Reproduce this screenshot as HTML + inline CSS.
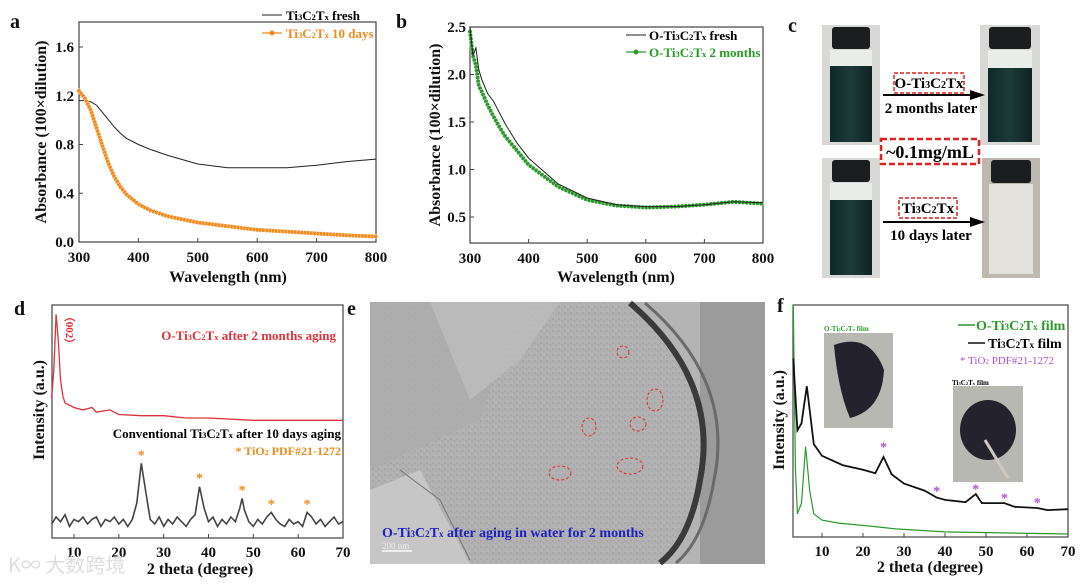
<!DOCTYPE html>
<html><head><meta charset="utf-8"><style>
html,body{margin:0;padding:0;background:#fff;overflow:hidden;width:1080px;height:586px}
svg{display:block;font-family:"Liberation Serif",serif}
.tk{font-weight:bold;font-size:15px;fill:#111}
.ax{font-weight:bold;font-size:16px;fill:#111}
</style></head><body>
<svg id="s" width="1080" height="586" viewBox="0 0 1080 586" xmlns="http://www.w3.org/2000/svg">
<defs>
<pattern id="noise" width="6" height="6" patternUnits="userSpaceOnUse"><rect width="6" height="6" fill="#b1b1b1"/><circle cx="1" cy="1" r="0.8" fill="#9a9a9a"/><circle cx="4" cy="3" r="0.7" fill="#a2a2a2"/><circle cx="2" cy="5" r="0.6" fill="#c0c0c0"/></pattern>
<linearGradient id="vial" x1="0" x2="1"><stop offset="0" stop-color="#0f2a28"/><stop offset="0.5" stop-color="#1c3b38"/><stop offset="1" stop-color="#0d2422"/></linearGradient>
</defs>
<g font-weight="bold" font-size="20" fill="#111">
<text x="10" y="28">a</text>
<text x="396" y="28">b</text>
<text x="788" y="32">c</text>
<text x="14" y="315">d</text>
<text x="347" y="315">e</text>
<text x="777" y="312">f</text>
</g>

<g>
<g><rect x="822" y="25" width="58" height="120" fill="#d8d8d6"/><rect x="832" y="27" width="38" height="22" rx="3" fill="#1b1d1f"/><rect x="830" y="50" width="42" height="16" fill="#e9ece9"/><rect x="830" y="66" width="42" height="76" fill="url(#vial)"/></g>
<g><rect x="980" y="25" width="60" height="120" fill="#d8d8d6"/><rect x="989" y="27" width="42" height="22" rx="3" fill="#1b1d1f"/><rect x="988" y="50" width="44" height="18" fill="#e9ece9"/><rect x="988" y="68" width="44" height="74" fill="url(#vial)"/></g>
<g><rect x="822" y="158" width="58" height="120" fill="#d8d8d6"/><rect x="832" y="160" width="38" height="22" rx="3" fill="#1b1d1f"/><rect x="830" y="183" width="42" height="17" fill="#e9ece9"/><rect x="830" y="200" width="42" height="75" fill="url(#vial)"/></g>
<g><rect x="982" y="158" width="58" height="120" fill="#bdb8b0"/><rect x="991" y="160" width="40" height="23" rx="3" fill="#1b1d1f"/><rect x="989" y="184" width="44" height="90" fill="#e4e2dc"/></g>
<g><line x1="883" y1="95" x2="975" y2="95" stroke="#000" stroke-width="2"/><polygon points="985,95 970,90 970,100" fill="#000"/></g>
<g><line x1="883" y1="222" x2="975" y2="222" stroke="#000" stroke-width="2"/><polygon points="985,222 970,217 970,227" fill="#000"/></g>
<rect x="894" y="73" width="70" height="20" fill="none" stroke="#e02020" stroke-width="1.5" stroke-dasharray="4,2"/>
<text x="929" y="88" text-anchor="middle" font-size="15" font-weight="bold">O-Ti<tspan font-size="10">3</tspan>C<tspan font-size="10">2</tspan>Tx</text>
<text x="931" y="113" text-anchor="middle" font-size="15" font-weight="bold">2 months later</text>
<rect x="881" y="139" width="98" height="25" fill="none" stroke="#e02020" stroke-width="2.5" stroke-dasharray="6,3"/>
<text x="930" y="158" text-anchor="middle" font-size="18" font-weight="bold">~0.1mg/mL</text>
<rect x="899" y="198" width="58" height="20" fill="none" stroke="#e02020" stroke-width="1.5" stroke-dasharray="4,2"/>
<text x="928" y="213" text-anchor="middle" font-size="15" font-weight="bold">Ti<tspan font-size="10">3</tspan>C<tspan font-size="10">2</tspan>Tx</text>
<text x="931" y="240" text-anchor="middle" font-size="15" font-weight="bold">10 days later</text>
</g>

<g>
<rect x="370" y="302" width="395" height="262" fill="#b4b4b4"/>
<rect x="700" y="302" width="65" height="262" fill="#9b9b9b"/>
<path d="M370,302 L630,302 Q720,380 700,480 Q690,540 660,564 L370,564 Z" fill="url(#noise)"/>
<polygon points="370,302 520,302 480,420 370,470" fill="#adadad" opacity="0.8"/>
<polygon points="430,302 560,302 520,360 470,400" fill="#bdbdbd" opacity="0.8"/>
<path d="M630,303 Q720,380 700,480 Q690,540 660,563" fill="none" stroke="#3a3a3a" stroke-width="6"/>
<path d="M645,303 Q735,380 714,480 Q704,540 676,563" fill="none" stroke="#6a6a6a" stroke-width="3"/>
<polygon points="370,490 420,470 470,564 370,564" fill="#c6c6c6"/>
<path d="M400,470 L440,500 L470,560" fill="none" stroke="#777" stroke-width="1"/>
<g fill="none" stroke="#e03030" stroke-width="1" stroke-dasharray="3,2">
<ellipse cx="623" cy="352" rx="6" ry="6"/><ellipse cx="655" cy="400" rx="8" ry="11"/><ellipse cx="638" cy="424" rx="8" ry="7"/><ellipse cx="589" cy="427" rx="7" ry="9"/><ellipse cx="630" cy="466" rx="13" ry="8"/><ellipse cx="560" cy="473" rx="11" ry="7"/>
</g>
<text x="382" y="537" font-size="14" font-weight="bold" fill="#2020c0">O-Ti<tspan font-size="9">3</tspan>C<tspan font-size="9">2</tspan>T<tspan font-size="9">x</tspan> after aging in water for 2 months</text>
<line x1="382" y1="551" x2="412" y2="551" stroke="#eee" stroke-width="2"/>
<text x="382" y="549" font-size="9" fill="#eee">200 nm</text>
</g>

<g id="charts"></g>
<text x="8" y="572" font-size="20" fill="#ddd" font-family="'Noto Sans CJK SC',sans-serif">K∞ 大数跨境</text>
</svg>
<script>
const aFreshX=[300,310,320,330,340,350,360,370,380,400,420,450,500,550,600,650,700,750,800];
const aFreshY=[1.16,1.16,1.15,1.12,1.06,1.0,0.94,0.89,0.85,0.8,0.76,0.71,0.64,0.61,0.61,0.61,0.63,0.66,0.68];
const aAgedX=[300,310,320,330,340,350,360,370,380,400,420,450,500,550,600,650,700,750,800];
const aAgedY=[1.24,1.18,1.08,0.93,0.78,0.64,0.53,0.45,0.39,0.31,0.26,0.21,0.16,0.13,0.1,0.085,0.07,0.055,0.045];
const aYTicks=[0.0,0.4,0.8,1.2,1.6];
const wlTicks=[300,400,500,600,700,800];
const bFreshX=[300,305,310,315,320,330,340,350,360,380,400,450,500,550,600,650,700,750,800];
const bFreshY=[2.5,2.2,2.28,2.05,1.95,1.8,1.72,1.6,1.48,1.28,1.12,0.85,0.7,0.63,0.61,0.61,0.63,0.66,0.65];
const bAgedX=[300,305,310,315,320,330,340,350,360,380,400,450,500,550,600,650,700,750,800];
const bAgedY=[2.45,2.2,2.1,1.88,1.82,1.68,1.56,1.45,1.35,1.2,1.05,0.82,0.68,0.62,0.6,0.61,0.63,0.66,0.64];
const bYTicks=[0.5,1.0,1.5,2.0,2.5];
const dRedX=[5,5.5,6,6.5,7,7.5,8,10,12,14,15,18,20,25,30,35,40,50,70];
const dRedY=[60,72,96,85,68,61,58,56,55,56,54,55,53,52.5,52.5,51.5,51.5,50.5,50.5];
const dBlkX=[5,6,7,8,9,10,11,12,13,14,15,16,17,18,19,20,21,22,23,24,25,26,27,28,29,30,31,32,33,34,35,36,37,38,39,40,41,42,43,44,45,46,47,47.5,48,49,50,51,52,53,54,55,56,57,58,59,60,61,62,63,64,65,66,67,68,69,70];
const dBlkY=[6,9,7,10,5,8,7,9,6,8,9,5,8,7,9,6,8,5,8,15,32,20,8,6,9,5,8,6,9,7,5,8,10,22,13,7,9,5,8,6,9,7,13,17,12,7,5,8,6,9,11,8,6,5,8,6,7,5,11,9,6,8,5,7,9,6,7];
const dStarX=[25,38,47.5,54,62];
const dStarY=[32,22,17,11,11];
const thetaTicks=[10,20,30,40,50,60,70];
const fBlkX=[3,4,5,6.3,8,10,15,20,23,25,27,30,35,38,40,45,47.5,49,54.5,57,62.5,65,70];
const fBlkY=[77,46,49,65,40,35,31,29,27.5,34.5,27,23,20,17,16,15,18.5,14.6,14.6,13,12.5,11.6,12];
const fGrnX=[3,3.5,4,5,6,7,8,10,14,20,28,40,70];
const fGrnY=[100,30,10,14.6,39,20,10,7.3,6,5,3.5,2.2,1.3];
const fStarX=[25,38,47.5,54.5,62.5];
const fStarY=[39,20,21,17,15];

const NS='http://www.w3.org/2000/svg';
const root=document.getElementById('charts');
function mk(tag,attrs,parent){const e=document.createElementNS(NS,tag);for(const k in attrs)e.setAttribute(k,attrs[k]);(parent||root).appendChild(e);return e;}
function lin(d0,d1,r0,r1){return v=>r0+(v-d0)/(d1-d0)*(r1-r0);}
function path(xs,ys,sx,sy){return xs.map((x,i)=>(i?'L':'M')+sx(x).toFixed(1)+','+sy(ys[i]).toFixed(1)).join('');}
function txt(x,y,s,cls,anchor,parent){const t=mk('text',{x:x,y:y,class:cls,'text-anchor':anchor||'middle'},parent);t.textContent=s;return t;}
function sub(t,parts){t.textContent='';parts.forEach(p=>{const s=document.createElementNS(NS,'tspan');if(p[1]){s.setAttribute('font-size','0.65em');}s.textContent=p[0];t.appendChild(s);});}
const TI=[['Ti'],['3',1],['C'],['2',1],['T'],['x',1]];
const OTI=[['O-Ti'],['3',1],['C'],['2',1],['T'],['x',1]];
function frame(g,L,T,R,B){const r=mk('rect',{x:L,y:T,width:R-L,height:B-T,fill:'none',stroke:'#444','stroke-width':1.2},g);}
function markers(g,p,color,step){const len=p.getTotalLength();for(let l=0;l<=len;l+=step){const pt=p.getPointAtLength(l);const c=mk('circle',{cx:pt.x,cy:pt.y,r:2.2,fill:color,stroke:'#fff','stroke-width':0.4},g);}}

{const g=mk('g',{});
const L=79,R=376,T=22,B=242;const sx=lin(300,800,L,R),sy=lin(0,1.6,B,47);
frame(g,L,T,R,B);
aYTicks.forEach(v=>{mk('line',{x1:L,x2:L+4,y1:sy(v),y2:sy(v),stroke:'#444'},g);txt(L-5,sy(v)+5,v.toFixed(1),'tk','end',g);});
wlTicks.forEach(v=>{mk('line',{x1:sx(v),x2:sx(v),y1:B,y2:B-4,stroke:'#444'},g);txt(sx(v),B+20,v,'tk','middle',g);});
const p1=mk('path',{d:path(aFreshX,aFreshY,sx,sy),fill:'none',stroke:'#222','stroke-width':1},g);
const p2=mk('path',{d:path(aAgedX,aAgedY,sx,sy),fill:'none',stroke:'#f08a1c','stroke-width':1.2},g);
markers(g,p2,'#f08a1c',3.2);
txt(228,282,'Wavelength (nm)','ax','middle',g);
const yt=txt(0,0,'Absorbance (100×dilution)','ax','middle',g);yt.setAttribute('transform','translate(46,132) rotate(-90)');
mk('line',{x1:262,x2:282,y1:15,y2:15,stroke:'#222'},g);
const l1=txt(286,20,'','','start',g);sub(l1,[...TI,[' fresh']]);l1.setAttribute('font-size','13');l1.setAttribute('font-weight','bold');
mk('line',{x1:262,x2:282,y1:33,y2:33,stroke:'#f08a1c','stroke-width':1.2},g);mk('circle',{cx:272,cy:33,r:2.5,fill:'#f08a1c'},g);
const l2=txt(286,38,'','','start',g);sub(l2,[...TI,[' 10 days']]);l2.setAttribute('font-size','13');l2.setAttribute('font-weight','bold');l2.setAttribute('fill','#f08a1c');}

{const g=mk('g',{});
const L=470,R=763,T=27,B=243;const sx=lin(300,800,L,R),sy=lin(0.5,2.5,217,27);
frame(g,L,T,R,B);
bYTicks.forEach(v=>{mk('line',{x1:L,x2:L+4,y1:sy(v),y2:sy(v),stroke:'#444'},g);txt(L-4,sy(v)+5,v.toFixed(1),'tk','end',g);});
wlTicks.forEach(v=>{mk('line',{x1:sx(v),x2:sx(v),y1:B,y2:B-4,stroke:'#444'},g);txt(sx(v),B+20,v,'tk','middle',g);});
const p2=mk('path',{d:path(bAgedX,bAgedY,sx,sy),fill:'none',stroke:'#2a9a2a','stroke-width':1.2},g);
markers(g,p2,'#2a9a2a',3.6);
const p1=mk('path',{d:path(bFreshX,bFreshY,sx,sy),fill:'none',stroke:'#222','stroke-width':1},g);
txt(616,282,'Wavelength (nm)','ax','middle',g);
const yt=txt(0,0,'Absorbance (100×dilution)','ax','middle',g);yt.setAttribute('transform','translate(440,135) rotate(-90)');
mk('line',{x1:626,x2:646,y1:35,y2:35,stroke:'#222'},g);
const l1=txt(649,40,'','','start',g);sub(l1,[...OTI,[' fresh']]);l1.setAttribute('font-size','13');l1.setAttribute('font-weight','bold');
mk('line',{x1:626,x2:646,y1:52,y2:52,stroke:'#2a9a2a','stroke-width':1.2},g);mk('circle',{cx:636,cy:52,r:2.5,fill:'#2a9a2a'},g);
const l2=txt(649,57,'','','start',g);sub(l2,[...OTI,[' 2 months']]);l2.setAttribute('font-size','13');l2.setAttribute('font-weight','bold');l2.setAttribute('fill','#2a9a2a');}

{const g=mk('g',{});
const L=52,R=343,T=305,B=538;const sx=lin(10,70,74,343),sy=lin(0,100,B,305);
frame(g,L,T,R,B);
thetaTicks.forEach(v=>{mk('line',{x1:sx(v),x2:sx(v),y1:B,y2:B-4,stroke:'#444'},g);txt(sx(v),B+19,v,'tk','middle',g);});
const p1=mk('path',{d:path(dRedX,dRedY,sx,sy),fill:'none',stroke:'#e0303a','stroke-width':1.3},g);
const p2=mk('path',{d:path(dBlkX,dBlkY,sx,sy),fill:'none',stroke:'#444','stroke-width':1.6},g);
dStarX.forEach((x,i)=>{const s=txt(sx(x),sy(dStarY[i])-4,'*','','middle',g);s.setAttribute('fill','#f08a1c');s.setAttribute('font-size','14');s.setAttribute('font-weight','bold');});
const n=txt(0,0,'（002）','','middle',g);n.setAttribute('transform','translate(66,330) rotate(90)');n.setAttribute('fill','#e0303a');n.setAttribute('font-size','11');n.setAttribute('font-weight','bold');
const t1=txt(336,340,'','','end',g);sub(t1,[...OTI,[' after 2 months aging']]);t1.setAttribute('fill','#e0303a');t1.setAttribute('font-size','13');t1.setAttribute('font-weight','bold');
const t2=txt(341,438,'','','end',g);sub(t2,[['Conventional '],...TI,[' after 10 days aging']]);t2.setAttribute('font-size','13');t2.setAttribute('font-weight','bold');
const t3=txt(341,455,'','','end',g);sub(t3,[['* TiO'],['2',1],[' PDF#21-1272']]);t3.setAttribute('fill','#f08a1c');t3.setAttribute('font-size','12');t3.setAttribute('font-weight','bold');
txt(200,574,'2 theta (degree)','ax','middle',g);
const yt=txt(0,0,'Intensity (a.u.)','ax','middle',g);yt.setAttribute('transform','translate(44,410) rotate(-90)');}

{const g=mk('g',{});
const L=793,R=1068,T=305,B=537;const sx=lin(10,70,822,1068),sy=lin(0,100,B,305);
frame(g,L,T,R,B);
thetaTicks.forEach(v=>{mk('line',{x1:sx(v),x2:sx(v),y1:B,y2:B-4,stroke:'#444'},g);txt(sx(v),B+19,v,'tk','middle',g);});
const p1=mk('path',{d:path(fGrnX,fGrnY,sx,sy),fill:'none',stroke:'#2a9a2a','stroke-width':1.2},g);
const p2=mk('path',{d:path(fBlkX,fBlkY,sx,sy),fill:'none',stroke:'#111','stroke-width':1.8},g);
fStarX.forEach((x,i)=>{const s=txt(sx(x),sy(fStarY[i])+5,'*','','middle',g);s.setAttribute('fill','#b050d0');s.setAttribute('font-size','14');s.setAttribute('font-weight','bold');});
const i1=mk('g',{},g);
mk('rect',{x:824,y:333,width:69,height:95,fill:'#b7b8b2'},i1);mk('path',{d:'M834,345 Q870,332 884,370 Q882,410 850,418 Q838,390 834,345Z',fill:'#24222d'},i1);
const c1=txt(824,331,'','','start',i1);sub(c1,[...OTI,[' film']]);c1.setAttribute('font-size','7');c1.setAttribute('font-weight','bold');c1.setAttribute('fill','#2a9a2a');
const i2=mk('g',{},g);
mk('rect',{x:953,y:386,width:70,height:96,fill:'#b7b8b2'},i2);mk('ellipse',{cx:988,cy:430,rx:28,ry:30,fill:'#24222d'},i2);mk('line',{x1:985,y1:440,x2:1008,y2:478,stroke:'#cfcac0','stroke-width':3},i2);
const c2=txt(952,385,'','','start',i2);sub(c2,[...TI,[' film']]);c2.setAttribute('font-size','7');c2.setAttribute('font-weight','bold');
mk('line',{x1:958,x2:975,y1:325,y2:325,stroke:'#2a9a2a','stroke-width':1.5},g);
const l1=txt(976,330,'','','start',g);sub(l1,[...OTI,[' film']]);l1.setAttribute('font-size','14');l1.setAttribute('font-weight','bold');l1.setAttribute('fill','#2a9a2a');
mk('line',{x1:968,x2:985,y1:343,y2:343,stroke:'#111','stroke-width':1.5},g);
const l2=txt(988,348,'','','start',g);sub(l2,[...TI,[' film']]);l2.setAttribute('font-size','14');l2.setAttribute('font-weight','bold');
const l3=txt(960,364,'','','start',g);sub(l3,[['* TiO'],['2',1],[' PDF#21-1272']]);l3.setAttribute('font-size','11');l3.setAttribute('fill','#b050d0');
txt(930,572,'2 theta (degree)','ax','middle',g);
const yt=txt(0,0,'Intensity (a.u.)','ax','middle',g);yt.setAttribute('transform','translate(784,420) rotate(-90)');}
</script>
</body></html>
